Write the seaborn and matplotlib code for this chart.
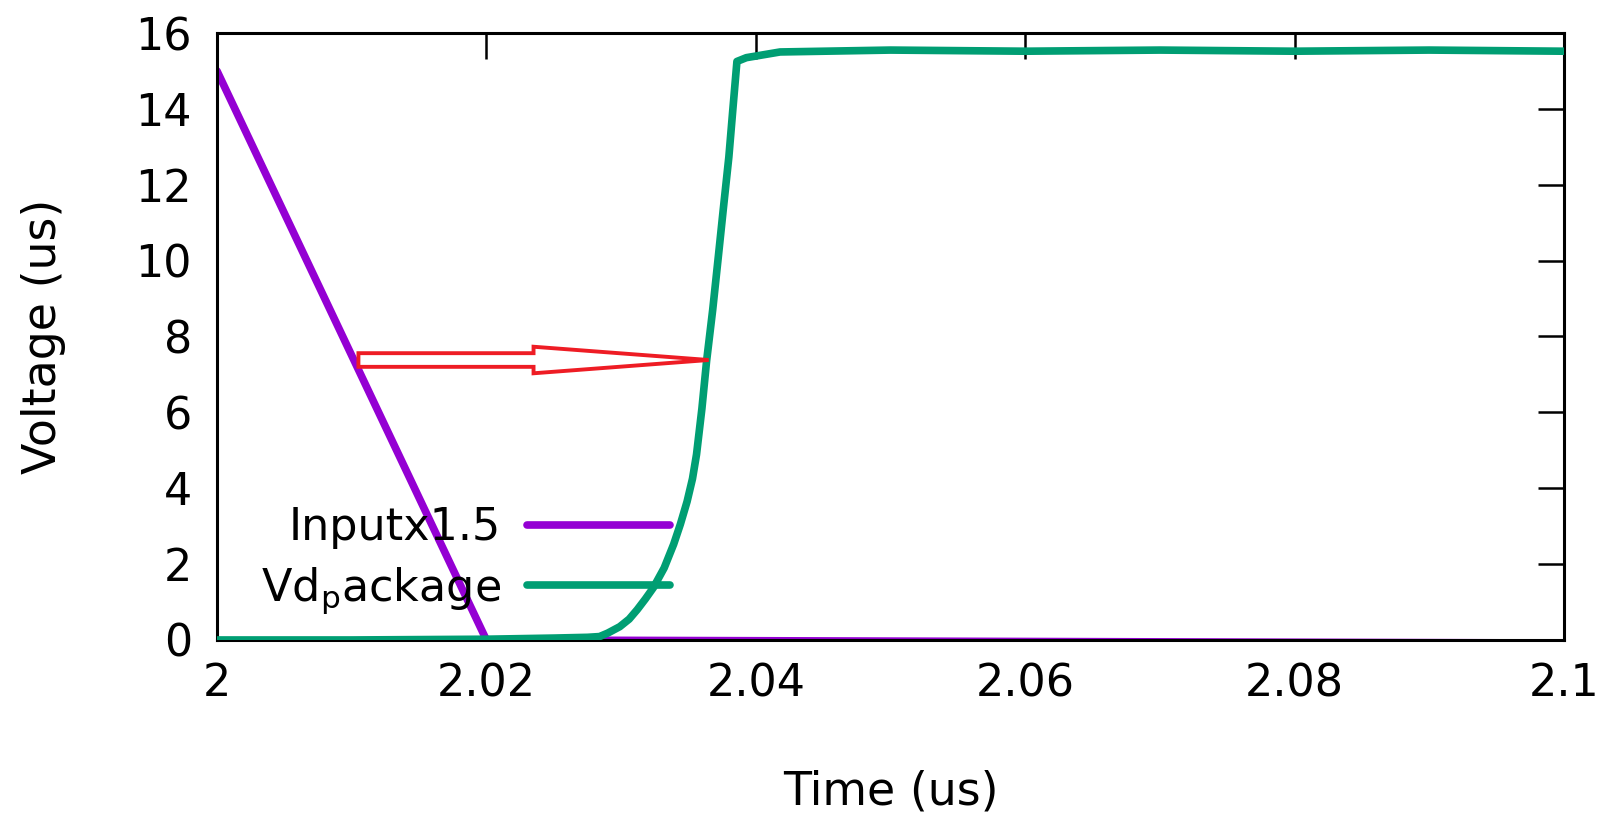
import matplotlib
matplotlib.use("Agg")
import matplotlib.pyplot as plt
import pandas as pd
import seaborn as sns
from matplotlib.patches import FancyArrow

# series
input_time = [2.0, 2.02, 2.1]
input_volt = [15.0, 0.0, -0.08]

vd_time = [2.0, 2.01, 2.02, 2.025, 2.0275, 2.0284, 2.029, 2.0299, 2.0306,
           2.0312, 2.0318, 2.0324, 2.0332, 2.0339, 2.0344, 2.0349, 2.0353,
           2.0356, 2.036, 2.03635, 2.0368, 2.0372, 2.0376, 2.038, 2.0383,
           2.0386, 2.0393, 2.0418, 2.05, 2.06, 2.07, 2.08, 2.09, 2.1]
vd_volt = [0.0, 0.0, 0.02, 0.05, 0.07, 0.09, 0.18, 0.35, 0.55,
           0.8, 1.08, 1.38, 1.9, 2.52, 3.05, 3.65, 4.25,
           4.89, 6.1, 7.36, 8.7, 10.04, 11.4, 12.73, 14.0,
           15.25, 15.35, 15.5, 15.55, 15.52, 15.55, 15.52, 15.55, 15.52]

x_ticks = [2.0, 2.02, 2.04, 2.06, 2.08, 2.1]
x_tick_labels = ["2", "2.02", "2.04", "2.06", "2.08", "2.1"]
y_ticks = [0, 2, 4, 6, 8, 10, 12, 14, 16]

# arrow annotation (tail x, tip x, level)
arrow_start = 2.0105
arrow_end = 2.0365
arrow_level = 7.38


def main():
    sns.set_style("white")
    plt.rcParams["font.family"] = ["DejaVu Sans"]
    plt.rcParams["text.color"] = "black"
    plt.rcParams["axes.labelcolor"] = "black"

    df_in = pd.DataFrame({"time": input_time, "volt": input_volt})
    df_vd = pd.DataFrame({"time": vd_time, "volt": vd_volt})

    fig = plt.figure(figsize=(16.11, 8.21), dpi=100)
    ax = fig.add_axes([0.1347, 0.2205, 0.8361, 0.7393])

    sns.lineplot(x="time", y="volt", data=df_vd, color="#009e73", lw=5.5,
                 label="Vd$_\\mathrm{p}$ackage", ax=ax, zorder=3)
    sns.lineplot(x="time", y="volt", data=df_in, color="#9400d3", lw=5.5,
                 label="Inputx1.5", ax=ax, zorder=2)

    ax.add_patch(FancyArrow(arrow_start, arrow_level, arrow_end - arrow_start, 0,
                            width=0.36, head_width=0.7, head_length=0.013,
                            length_includes_head=True, facecolor="white",
                            edgecolor="#ee1c24", lw=2.8, zorder=4))

    ax.set_xlim(2.0, 2.1)
    ax.set_ylim(0, 16)
    ax.set_xticks(x_ticks)
    ax.set_xticklabels(x_tick_labels)
    ax.set_yticks(y_ticks)

    for s in ax.spines.values():
        s.set_color("black")
        s.set_linewidth(2.2)
        s.set_visible(True)

    ax.tick_params(axis="both", direction="in", length=19, width=1.8,
                   colors="black", labelsize=32, top=True, right=True)
    ax.tick_params(axis="y", pad=18)
    ax.tick_params(axis="x", pad=16)

    ax.set_xlabel("Time (us)", fontsize=33, labelpad=46)
    ax.set_ylabel("Voltage (us)", fontsize=33, labelpad=50)

    handles, labels = ax.get_legend_handles_labels()
    ax.legend(handles[::-1], labels[::-1], loc="lower right",
              bbox_to_anchor=(0.336, 0.04), frameon=False, markerfirst=False,
              fontsize=32, handlelength=3.2, handletextpad=0.6,
              labelspacing=0.35, borderpad=0, borderaxespad=0)

    fig.savefig("out.png", dpi=100)


if __name__ == "__main__":
    main()
